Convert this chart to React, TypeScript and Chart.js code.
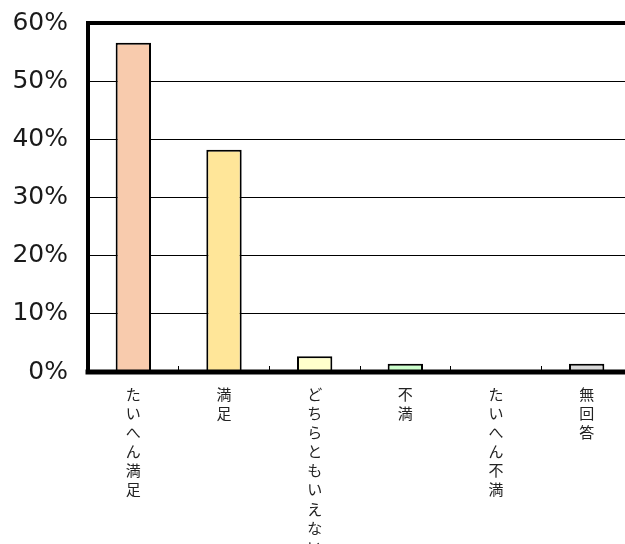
import React, { useEffect, useRef } from "react";
import { Chart, registerables } from "chart.js";

Chart.register(...registerables);

const categories = ["たいへん満足", "満足", "どちらともいえない", "不満", "たいへん不満", "無回答"];
const values = [56.6, 38.2, 2.7, 1.4, 0, 1.4];
const barColors = ["#F8CBAD", "#FFE699", "#FFFFCC", "#CCFFCC", "#FFCCCC", "#D9D9D9"];
const yTicks = [0, 10, 20, 30, 40, 50, 60];

const CANVAS_W = 660;
const CANVAS_H = 600;
const PLOT_LEFT = 88;
const PLOT_TOP = 23;
const PLOT_RIGHT = 632;
const PLOT_BOTTOM = 372;

const frame = {
  id: "frame",
  afterDatasetsDraw(chart: any) {
    const { ctx, chartArea: a } = chart;
    ctx.save();
    ctx.strokeStyle = "#000";
    ctx.lineCap = "square";
    ctx.lineWidth = 4;
    ctx.beginPath();
    ctx.moveTo(a.left, a.top);
    ctx.lineTo(a.right, a.top);
    ctx.lineTo(a.right, a.bottom);
    ctx.moveTo(a.left, a.top);
    ctx.lineTo(a.left, a.bottom);
    ctx.stroke();
    ctx.lineWidth = 5;
    ctx.beginPath();
    ctx.moveTo(a.left, a.bottom);
    ctx.lineTo(a.right, a.bottom);
    ctx.stroke();
    ctx.restore();
  },
};

export default function App() {
  const ref = useRef<HTMLCanvasElement>(null);
  useEffect(() => {
    if (!ref.current) return;
    const chart = new Chart(ref.current, {
      type: "bar",
      data: {
        labels: categories,
        datasets: [
          {
            data: values,
            backgroundColor: barColors,
            borderColor: "#000",
            borderWidth: 2,
            borderSkipped: "bottom",
            categoryPercentage: 1,
            barPercentage: 0.39,
          },
        ],
      },
      options: {
        animation: false,
        responsive: false,
        devicePixelRatio: 1,
        layout: { padding: { top: PLOT_TOP, left: 0, right: CANVAS_W - PLOT_RIGHT, bottom: 0 } },
        plugins: { legend: { display: false }, tooltip: { enabled: false }, title: { display: false } },
        scales: {
          x: {
            offset: true,
            border: { display: false },
            grid: { offset: true, drawOnChartArea: false, drawTicks: true, tickLength: -6, color: "#000", lineWidth: 1 },
            ticks: {
              autoSkip: false,
              maxRotation: 0,
              minRotation: 0,
              padding: 19,
              color: "#222",
              font: { family: "'Noto Sans CJK JP'", size: 15, lineHeight: 1.27 },
              callback: function (this: any, value: any) {
                return Array.from(String(this.getLabelForValue(value)));
              },
            },
            afterFit(scale: any) {
              scale.height = CANVAS_H - PLOT_BOTTOM;
              scale.paddingLeft = 0;
              scale.paddingRight = 0;
            },
          },
          y: {
            min: 0,
            max: 60,
            border: { display: false },
            grid: { drawTicks: false, color: "#000", lineWidth: 1 },
            afterBuildTicks(scale: any) {
              scale.ticks = yTicks.map((v) => ({ value: v }));
            },
            ticks: {
              padding: 20,
              color: "#1a1a1a",
              font: { family: "'DejaVu Sans'", size: 25 },
              callback: (v: any) => v + "%",
            },
            afterFit(scale: any) {
              scale.width = PLOT_LEFT;
              scale.paddingTop = 0;
              scale.paddingBottom = 0;
            },
          },
        },
      },
      plugins: [frame],
    });
    return () => chart.destroy();
  }, []);
  return (
    <div style={{ position: "fixed", left: 0, top: 0, width: 625, height: 544, overflow: "hidden", background: "#fff" }}>
      <canvas ref={ref} width={CANVAS_W} height={CANVAS_H} style={{ display: "block" }} />
    </div>
  );
}
